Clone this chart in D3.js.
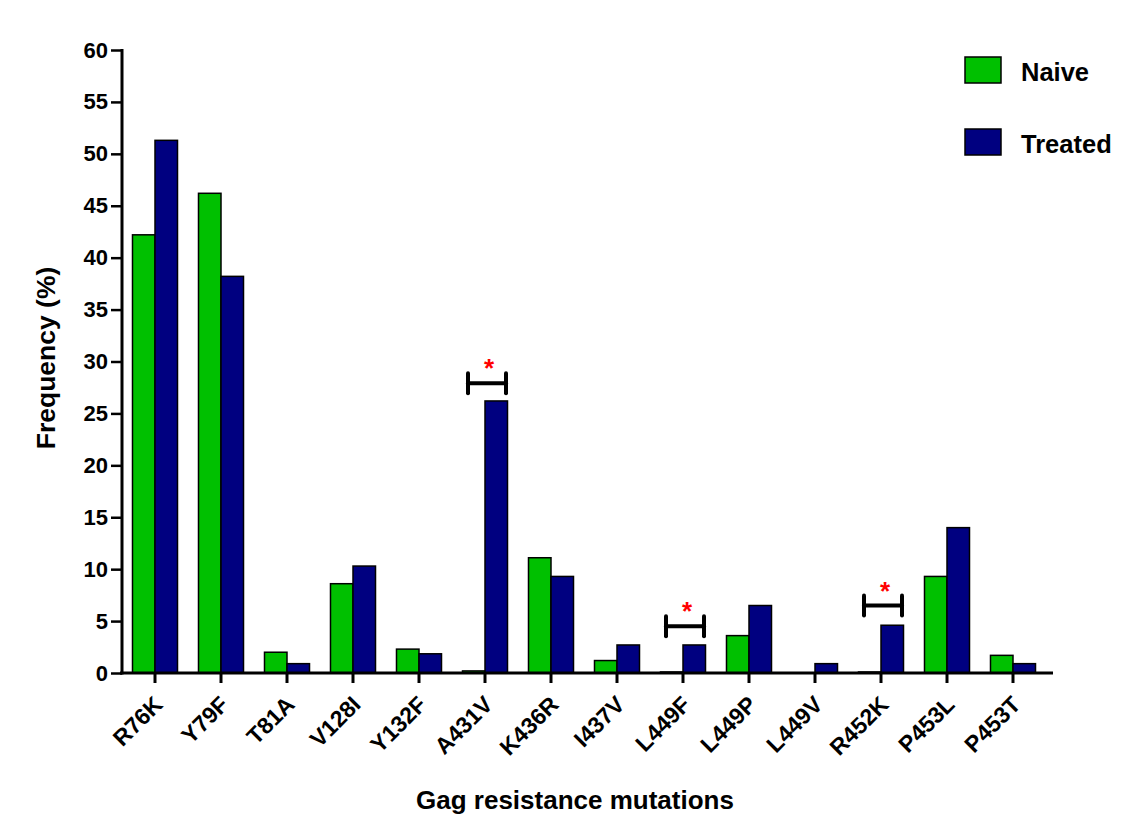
<!DOCTYPE html>
<html><head><meta charset="utf-8">
<script src="https://cdn.jsdelivr.net/npm/d3@7"></script>
<style>body{margin:0;background:#fff}svg{display:block}text{font-family:"Liberation Sans",Arial,sans-serif;font-weight:bold}</style>
</head><body>
<svg id="c" width="1130" height="832"></svg>
<script>
const categories = ["R76K","Y79F","T81A","V128I","Y132F","A431V","K436R","I437V","L449F","L449P","L449V","R452K","P453L","P453T"];
const naive   = [42.2,46.2,2.0,8.6,2.3,0.2,11.1,1.2,0.1,3.6,0,0.1,9.3,1.7];
const treated = [51.3,38.2,0.9,10.3,1.85,26.2,9.3,2.7,2.7,6.5,0.9,4.6,14.0,0.9];
const seriesNames = ["Naive","Treated"];
const yTicks = [0,5,10,15,20,25,30,35,40,45,50,55,60];
const sigCats = ["A431V","L449F","R452K"];
const sigLevels = [27.9,4.5,6.5];

const colors = ["#00c000","#000080"];
const svg = d3.select("#c");
const x = d3.scaleBand().domain(categories).range([122,1046]).paddingInner(0.318).paddingOuter(0.159);
const xs = d3.scaleBand().domain(seriesNames).range([0,x.bandwidth()]);
const y = d3.scaleLinear().domain([0,60]).range([673,50]);

// bars
const g = svg.append("g");
categories.forEach((c,i)=>{
  [naive[i],treated[i]].forEach((v,j)=>{
    g.append("rect").attr("x",x(c)+xs(seriesNames[j])).attr("y",y(v))
     .attr("width",xs.bandwidth()).attr("height",y(0)-y(v))
     .attr("fill",colors[j]).attr("stroke","#000").attr("stroke-width",1.5);
  });
});

// y axis
const yAxis = svg.append("g").attr("transform","translate(122,0)")
  .call(d3.axisLeft(y).tickValues(yTicks).tickSize(11).tickPadding(3));
yAxis.select(".domain").attr("stroke-width",3).attr("d","M0,49V674.5");
yAxis.selectAll(".tick line").attr("stroke-width",2.5);
yAxis.selectAll(".tick text").attr("font-size",22).attr("fill","#000")
  .attr("font-family","'Liberation Sans',Arial,sans-serif").attr("font-weight","bold");

// x axis
const xAxis = svg.append("g").attr("transform","translate(0,673)")
  .call(d3.axisBottom(x).tickSize(10).tickSizeOuter(0));
xAxis.select(".domain").attr("stroke-width",3).attr("d","M120,0H1053");
xAxis.selectAll(".tick line").attr("stroke-width",3);
xAxis.selectAll(".tick text").attr("font-size",23).attr("fill","#000")
  .attr("font-family","'Liberation Sans',Arial,sans-serif").attr("font-weight","bold")
  .attr("text-anchor","end").attr("dy",0).attr("y",0)
  .attr("transform","translate(9,33) rotate(-45)");

// significance brackets
sigCats.forEach((c,i)=>{
  const cx = x(c)+x.bandwidth()/2+2, yy = y(sigLevels[i]), hw = 19;
  const b = svg.append("g").attr("stroke","#000").attr("stroke-width",4).attr("stroke-linecap","round");
  b.append("line").attr("x1",cx-hw).attr("x2",cx+hw).attr("y1",yy).attr("y2",yy);
  b.append("line").attr("x1",cx-hw).attr("x2",cx-hw).attr("y1",yy-10).attr("y2",yy+10);
  b.append("line").attr("x1",cx+hw).attr("x2",cx+hw).attr("y1",yy-10).attr("y2",yy+10);
  svg.append("text").attr("x",cx+2).attr("y",yy-6).attr("text-anchor","middle")
    .attr("font-size",26).attr("fill","#ff0000").text("*");
});

// legend
seriesNames.forEach((s,i)=>{
  const ly = 57 + i*72;
  svg.append("rect").attr("x",965).attr("y",ly).attr("width",36).attr("height",26)
    .attr("fill",colors[i]).attr("stroke","#000").attr("stroke-width",1.5);
  svg.append("text").attr("x",1021).attr("y",ly+24).attr("font-size",25.5).attr("fill","#000").text(s);
});

// titles
svg.append("text").attr("transform","translate(55,358) rotate(-90)").attr("text-anchor","middle")
  .attr("font-size",26.5).attr("fill","#000").text("Frequency (%)");
svg.append("text").attr("x",575).attr("y",809).attr("text-anchor","middle")
  .attr("font-size",26).attr("fill","#000").text("Gag resistance mutations");
</script>
</body></html>
